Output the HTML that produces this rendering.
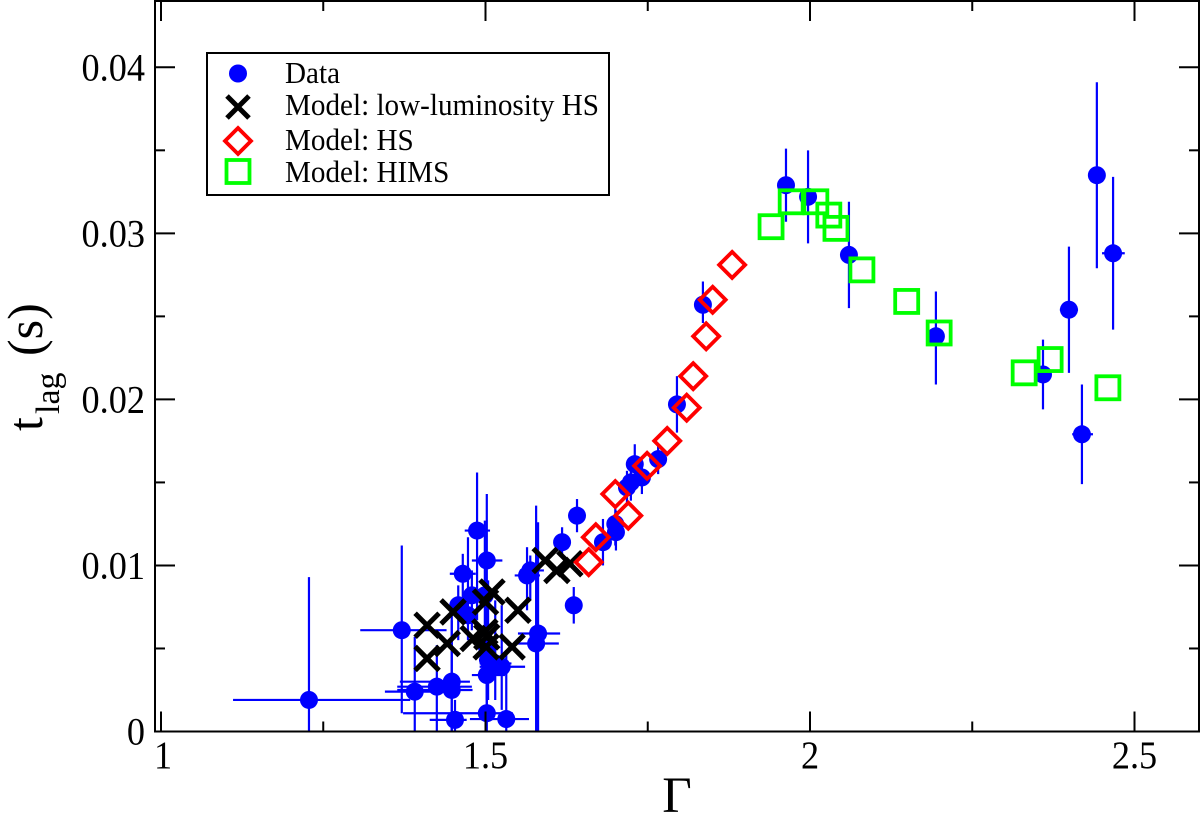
<!DOCTYPE html>
<html lang="en">
<head>
<meta charset="utf-8">
<title>Time lag vs photon index</title>
<style>
html,body{margin:0;padding:0;background:#fff;}
svg{display:block;}
text{font-family:"Liberation Serif",serif;fill:#000;}
</style>
</head>
<body>
<svg id="chart" xmlns="http://www.w3.org/2000/svg" width="1200" height="828" viewBox="0 0 1200 828">
  <rect x="0" y="0" width="1200" height="828" fill="#fff"/>
  <g id="errors"></g>
  <g id="points"></g>
  <g id="lowhs"></g>
  <g id="hs"></g>
  <g id="hims"></g>
  <g id="axes"></g>
  <text x="677" y="812" font-size="51" text-anchor="middle">Γ</text>
  <g>
    <text transform="translate(42,431) rotate(-90)" font-size="50">t</text>
    <text transform="translate(59,414) rotate(-90)" font-size="34">lag</text>
    <text transform="translate(42,356) rotate(-90)" font-size="50">(s)</text>
  </g>
  <g id="legend">
    <rect x="207" y="53" width="402" height="142" fill="#fff" stroke="#000" stroke-width="2"/>
    <circle cx="238" cy="73.5" r="9" fill="#0000ff"/>
    <path d="M227 96L249 118M249 96L227 118" stroke="#000" stroke-width="5" fill="none"/>
    <path d="M238 128L251 141L238 154L225 141Z" stroke="#ff0000" stroke-width="3.8" fill="none"/>
    <rect x="226.5" y="160" width="23" height="23" stroke="#00ff00" stroke-width="3.8" fill="none"/>
    <text transform="translate(285,83) scale(0.94,1)" font-size="31">Data</text>
    <text transform="translate(285,115) scale(0.94,1)" font-size="31">Model: low-luminosity HS</text>
    <text transform="translate(285,150) scale(0.94,1)" font-size="31">Model: HS</text>
    <text transform="translate(285,182) scale(0.94,1)" font-size="31">Model: HIMS</text>
  </g>
</svg>
<script>
var dataGamma = [1.228,1.371,1.391,1.425,1.448,1.448,1.453,1.502,1.532,1.502,1.525,1.515,1.578,1.581,1.564,1.569,1.487,1.502,1.465,1.479,1.458,1.473,1.499,1.502,1.504,1.618,1.641,1.636,1.681,1.701,1.700,1.718,1.724,1.741,1.730,1.766,1.795,1.835,1.963,1.997,2.060,2.194,2.442,2.467,2.399,2.359,2.419];
var dataLag = [.0019,.0061,.0024,.0027,.0030,.0025,.0007,.0011,.00075,.0034,.0039,.0041,.0053,.0059,.0094,.0097,.0121,.0103,.0095,.0082,.0076,.0070,.0082,.0051,.0043,.0114,.0130,.0076,.0114,.0120,.0125,.0147,.0150,.0153,.0161,.0164,.0197,.0257,.0329,.0322,.0287,.0238,.0335,.0288,.0254,.0215,.0179];
var lagLow = [0,.0011,0,0,0,0,0,0,0,.0012,.0013,.0019,0,0,.0073,.0079,.0067,.0064,.0074,.0061,.0055,.0055,.0031,.0019,.0019,.0106,.0120,.0065,.0100,.0109,.0112,.0136,.0139,.0143,.0149,.0155,.0180,.0246,.0307,.0294,.0255,.0209,.0279,.0242,.0216,.0194,.0149];
var lagHigh = [.0093,.0112,.0057,.0052,.0067,.0073,.0019,.0055,.0049,.0085,.0076,.0079,.0136,.0126,.0111,.0106,.0156,.0143,.0107,.0097,.0088,.0117,.0127,.0091,.0091,.0123,.0140,.0087,.0128,.0133,.0136,.0157,.0157,.0163,.0173,.0173,.0214,.0271,.0351,.0350,.0319,.0265,.0391,.0334,.0292,.0236,.0209];
var gammaLow = [1.111,1.307,1.345,1.364,1.368,1.364,1.414,1.373,1.476,1.479,1.491,1.491,1.550,1.550,1.545,1.553,1.468,1.479,1.445,1.465,1.450,1.460,1.485,1.488,1.490,1.618,1.641,1.636,1.681,1.701,1.700,1.718,1.724,1.741,1.730,1.766,1.795,1.835,1.963,1.997,2.060,2.194,2.442,2.450,2.385,2.359,2.404];
var gammaHigh = [1.384,1.440,1.453,1.479,1.476,1.480,1.471,1.542,1.567,1.530,1.561,1.540,1.613,1.615,1.584,1.590,1.507,1.526,1.485,1.495,1.470,1.485,1.515,1.520,1.520,1.618,1.641,1.636,1.681,1.701,1.700,1.718,1.724,1.741,1.730,1.766,1.795,1.835,1.963,1.997,2.060,2.194,2.442,2.485,2.413,2.359,2.436];

var lowHsGamma = [1.410,1.410,1.441,1.450,1.481,1.500,1.510,1.499,1.502,1.501,1.541,1.550,1.592,1.610,1.630];
var lowHsLag = [.0064,.0044,.0053,.0072,.0056,.0078,.0084,.0060,.0057,.0051,.0051,.0073,.0103,.0097,.0101];

var hsGamma = [1.659,1.670,1.700,1.720,1.749,1.780,1.810,1.820,1.840,1.850,1.880];
var hsLag = [.0102,.0117,.0143,.0130,.0160,.0175,.0195,.0214,.0238,.0260,.0281];

var himsGamma = [1.940,1.971,2.009,2.029,2.040,2.080,2.149,2.199,2.330,2.370,2.459];
var himsLag = [.0304,.0319,.0319,.0311,.0303,.0278,.0259,.0240,.0216,.0224,.0207];

var xMajorTicks = [1,1.5,2,2.5];
var xMinorTicks = [1.25,1.75,2.25];
var xTickLabels = ["1","1.5","2","2.5"];
var yMajorTicks = [0,.01,.02,.03,.04];
var yMinorTicks = [.005,.015,.025,.035];
var yTickLabels = ["0","0.01","0.02","0.03","0.04"];

var NS = "http://www.w3.org/2000/svg";
function xAxis(v){ return 161 + (v - 1) * 649; }
function yAxis(v){ return 731.5 - v * 16605; }
function make(tag, parent, attrs){
  var el = document.createElementNS(NS, tag);
  for (var k in attrs) el.setAttribute(k, attrs[k]);
  document.getElementById(parent).appendChild(el);
  return el;
}

dataGamma.forEach(function(g, i){
  var v = make("line", "errors", {x1:xAxis(g), x2:xAxis(g), y1:yAxis(lagLow[i]), y2:yAxis(lagHigh[i]), stroke:"#0000ff", "stroke-width":2.2});
  
  
  var h = make("line", "errors", {x1:xAxis(gammaLow[i]), x2:xAxis(gammaHigh[i]), y1:yAxis(dataLag[i]), y2:yAxis(dataLag[i]), stroke:"#0000ff", "stroke-width":2.2});
  
  
});
dataGamma.forEach(function(g, i){
  var c = make("circle", "points", {cx:xAxis(g), cy:yAxis(dataLag[i]), r:9, fill:"#0000ff"});
  
  
});
lowHsGamma.forEach(function(g, i){
  var x = xAxis(g), y = yAxis(lowHsLag[i]), s = 12;
  var p = make("path", "lowhs", {d:"M"+(x-s)+" "+(y-s)+"L"+(x+s)+" "+(y+s)+"M"+(x+s)+" "+(y-s)+"L"+(x-s)+" "+(y+s), stroke:"#000", "stroke-width":5, fill:"none"});
  
  
});
hsGamma.forEach(function(g, i){
  var x = xAxis(g), y = yAxis(hsLag[i]), s = 13;
  var p = make("path", "hs", {d:"M"+x+" "+(y-s)+"L"+(x+s)+" "+y+"L"+x+" "+(y+s)+"L"+(x-s)+" "+y+"Z", stroke:"#ff0000", "stroke-width":3.8, fill:"none"});
  
  
});
himsGamma.forEach(function(g, i){
  var r = make("rect", "hims", {x:xAxis(g)-11.5, y:yAxis(himsLag[i])-11.5, width:23, height:23, stroke:"#00ff00", "stroke-width":3.8, fill:"none"});
  
  
});

var frame = make("rect", "axes", {x:155, y:1, width:1044, height:730.5, fill:"none", stroke:"#000", "stroke-width":2});



function xTick(v, len){
  var a = make("line", "axes", {x1:xAxis(v), x2:xAxis(v), y1:731.5, y2:731.5-len, stroke:"#000", "stroke-width":2});
  
  
  var b = make("line", "axes", {x1:xAxis(v), x2:xAxis(v), y1:1, y2:1+len, stroke:"#000", "stroke-width":2});
  
  
}
function yTick(v, len){
  var a = make("line", "axes", {x1:155, x2:155+len, y1:yAxis(v), y2:yAxis(v), stroke:"#000", "stroke-width":2});
  
  
  var b = make("line", "axes", {x1:1199, x2:1199-len, y1:yAxis(v), y2:yAxis(v), stroke:"#000", "stroke-width":2});
  
  
}
xMajorTicks.forEach(function(v, i){
  xTick(v, 20);
  var t = make("text", "axes", {transform:"translate("+(xAxis(v)+(i===0?2:0))+",768) scale(0.93,1)", "font-size":39, "text-anchor":"middle"});
  t.textContent = xTickLabels[i];
  
  
});
xMinorTicks.forEach(function(v){ xTick(v, 10); });
yMajorTicks.forEach(function(v, i){
  yTick(v, 20);
  var t = make("text", "axes", {transform:"translate(145,"+(yAxis(v)+13)+") scale(0.93,1)", "font-size":39, "text-anchor":"end"});
  t.textContent = yTickLabels[i];
  
  
});
yMinorTicks.forEach(function(v){ yTick(v, 10); });
</script>
</body>
</html>
